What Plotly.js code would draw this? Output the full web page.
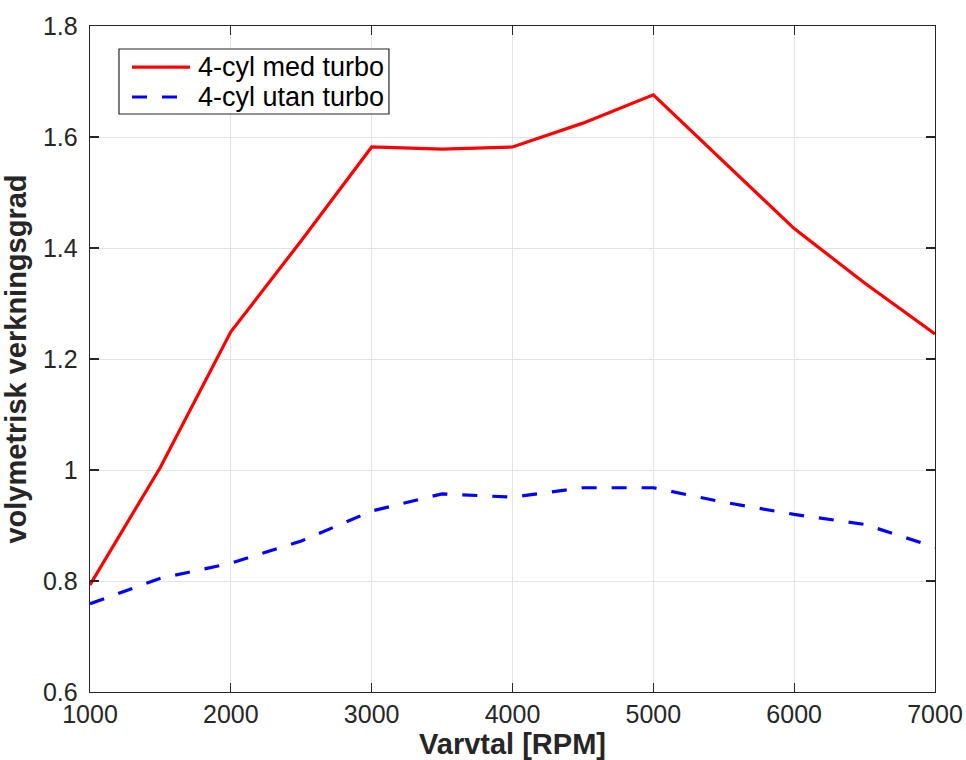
<!DOCTYPE html>
<html>
<head>
<meta charset="utf-8">
<script src="https://cdn.plot.ly/plotly-3.0.1.min.js"></script>
<style>html,body{margin:0;padding:0;background:#fff;}#chart{width:966px;height:760px;}</style>
</head>
<body>
<div id="chart"></div>
<script>
const rpm = [1000, 1500, 2000, 2500, 3000, 3500, 4000, 4500, 5000, 5500, 6000, 6500, 7000];
const medTurbo = [0.793, 1.005, 1.249, 1.413, 1.582, 1.578, 1.582, 1.625, 1.676, 1.555, 1.435, 1.337, 1.245];
const utanTurbo = [0.759, 0.805, 0.832, 0.872, 0.926, 0.957, 0.951, 0.968, 0.968, 0.942, 0.920, 0.902, 0.861];
const seriesNames = ["4-cyl med turbo", "4-cyl utan turbo"];
const seriesColors = ["#ff0000", "#0000ff"];
const seriesDash = ["solid", "15px,15px"];
const xTicks = [1000, 2000, 3000, 4000, 5000, 6000, 7000];
const xTickText = ["1000", "2000", "3000", "4000", "5000", "6000", "7000"];
const yTicks = [0.6, 0.8, 1.0, 1.2, 1.4, 1.6, 1.8];
const yTickText = ["0.6", "0.8", "1", "1.2", "1.4", "1.6", "1.8"];
const xTitle = "Varvtal [RPM]";
const yTitle = "volymetrisk verkningsgrad";

const font = "Liberation Sans, Arial, Helvetica, sans-serif";
const axisCommon = {
  showline: true, linecolor: "#262626", linewidth: 1.3, mirror: "ticks",
  ticks: "inside", ticklen: 9, tickwidth: 1.3, tickcolor: "#262626",
  showgrid: true, gridcolor: "#e3e3e3", gridwidth: 1, zeroline: false,
  tickfont: {family: font, size: 25, color: "#262626"}
};

const data = [
  {x: rpm, y: medTurbo, name: seriesNames[0], type: "scatter", mode: "lines",
   line: {color: seriesColors[0], width: 3.2, dash: seriesDash[0]}},
  {x: rpm, y: utanTurbo, name: seriesNames[1], type: "scatter", mode: "lines",
   line: {color: seriesColors[1], width: 3.2, dash: seriesDash[1]}}
];

// Legend drawn in paper space (box, sample lines, labels)
const legendBox = {x0: 0.0343, x1: 0.3538, y0: 0.8679, y1: 0.9655};
const legendRows = [0.9384, 0.8934];
const legendLineX = [0.0497, 0.1183];
const legendTextX = 0.1254;

const shapes = [{
  type: "rect", xref: "paper", yref: "paper",
  x0: legendBox.x0, x1: legendBox.x1, y0: legendBox.y0, y1: legendBox.y1,
  fillcolor: "#ffffff", line: {color: "#262626", width: 1.2}, layer: "above"
}];
const annotations = [];
seriesNames.forEach((name, i) => {
  shapes.push({
    type: "line", xref: "paper", yref: "paper",
    x0: legendLineX[0], x1: legendLineX[1], y0: legendRows[i], y1: legendRows[i],
    line: {color: seriesColors[i], width: 3.2, dash: seriesDash[i]}, layer: "above"
  });
  annotations.push({
    xref: "paper", yref: "paper", x: legendTextX, y: legendRows[i],
    xanchor: "left", yanchor: "middle", showarrow: false, text: name,
    font: {family: font, size: 27, color: "#000"}
  });
});

const layout = {
  width: 966, height: 760,
  margin: {l: 90, r: 31, t: 26, b: 68},
  paper_bgcolor: "#fff", plot_bgcolor: "#fff",
  showlegend: false,
  shapes: shapes,
  annotations: annotations,
  xaxis: Object.assign({}, axisCommon, {
    range: [1000, 7000], tickvals: xTicks, ticktext: xTickText,
    title: {text: xTitle, font: {family: font, size: 29, color: "#262626", weight: "bold"}, standoff: 3}
  }),
  yaxis: Object.assign({}, axisCommon, {
    range: [0.6, 1.8], tickvals: yTicks, ticktext: yTickText,
    ticklabelstandoff: 6,
    title: {text: yTitle, font: {family: font, size: 29, color: "#262626", weight: "bold"}, standoff: 12}
  })
};

Plotly.newPlot("chart", data, layout, {displayModeBar: false, staticPlot: true});
</script>
</body>
</html>
